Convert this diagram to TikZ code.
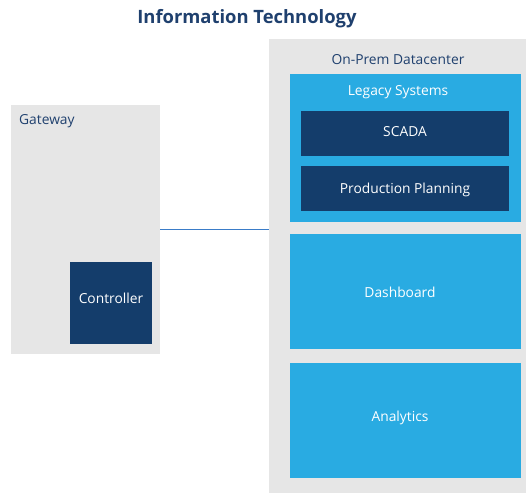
\documentclass[tikz,border=0pt]{standalone}
\usepackage{fontspec}
\setmainfont{Open Sans}
\usetikzlibrary{positioning}
\definecolor{itgrey}{HTML}{E6E6E6}
\definecolor{itnavy}{HTML}{143D6B}
\definecolor{itsky}{HTML}{29ABE2}
\definecolor{ittext}{HTML}{1F406E}
\definecolor{itline}{HTML}{3A7CC8}

\begin{document}
\begin{tikzpicture}[x=1pt,y=-1pt,
  zone/.style={fill=itgrey,inner sep=0pt,anchor=north west},
  navybox/.style={fill=itnavy,inner sep=0pt,anchor=north west},
  skybox/.style={fill=itsky,inner sep=0pt,anchor=north west},
  zonelabel/.style={text=ittext,inner sep=0pt,text height=0.72em,text depth=0pt,
    yshift=-2pt,font=\fontsize{13.8}{16}\selectfont}]
  \useasboundingbox (0,0) rectangle (526,493);

  % title
  \node[zonelabel,font=\bfseries\fontsize{18.4}{22}\selectfont] (title) at (247,18) {Information Technology};

  % gateway
  \node[zone,minimum width=149pt,minimum height=249pt] (gateway) at (11,105) {};
  \node[zonelabel,anchor=west] (gwlabel) at (19,119) {Gateway};
  \node[navybox,minimum width=82pt,minimum height=82pt] (controller) at (70,262) {};
  \node[zonelabel,text=white] (ctrllabel) at (111,298) {Controller};

  % datacenter
  \node[zone,minimum width=257pt,minimum height=454pt] (dc) at (269,39) {};
  \node[zonelabel] (dclabel) at (398,59) {On-Prem Datacenter};

  % legacy systems
  \node[skybox,minimum width=231pt,minimum height=148pt] (legacy) at (290,74) {};
  \node[zonelabel,text=white] (legacylabel) at (398,90) {Legacy Systems};
  \node[navybox,minimum width=208pt,minimum height=45pt] (scada) at (301,111) {};
  \node[zonelabel,text=white] (scadalabel) at (405,131) {SCADA};
  \node[navybox,minimum width=208pt,minimum height=45pt] (planning) at (301,166) {};
  \node[zonelabel,text=white] (planninglabel) at (405,188) {Production Planning};

  % dashboard and analytics
  \node[skybox,minimum width=231pt,minimum height=115pt] (dashboard) at (290,234) {};
  \node[zonelabel,text=white] (dashlabel) at (400,292) {Dashboard};
  \node[skybox,minimum width=231pt,minimum height=115pt] (analytics) at (290,363) {};
  \node[zonelabel,text=white] (analyticslabel) at (400,416) {Analytics};

  % link
  \draw[itline,line width=1pt] (gateway.east) -- (gateway.east -| dc.west);
\end{tikzpicture}
\end{document}
